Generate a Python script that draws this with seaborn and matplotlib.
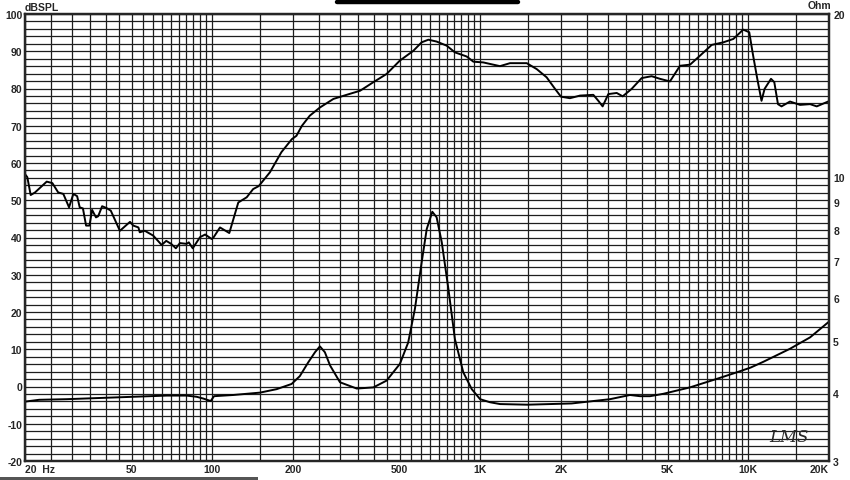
import numpy as np
import pandas as pd
import matplotlib
matplotlib.use('Agg')
import matplotlib.pyplot as plt
import seaborn as sns
from matplotlib.ticker import FixedLocator, MultipleLocator, LogLocator, NullLocator, NullFormatter
from matplotlib.lines import Line2D
from matplotlib.patches import Rectangle

# SPL response (Hz, dBSPL)
spl_freq = [20, 20.4, 21.0, 21.8, 24.1, 25.3, 26.6, 27.8, 29.2, 30.3, 31.3, 32.0, 32.9, 33.8,
            34.8, 35.6, 36.8, 37.5, 38.8, 40.3, 41.8, 45.2, 49.3, 50.7, 53.0, 53.6, 56.0, 60.2,
            64.7, 67.3, 70.2, 73.1, 75.7, 80.2, 81.7, 84.5, 90, 94, 99.5, 101, 106.8, 115.7,
            125, 134.4, 142, 149, 164, 181, 198, 206, 216, 231, 252, 283, 317, 356, 399, 447,
            501, 562, 604, 640, 687, 749, 804, 889, 942, 1026, 1086, 1184, 1290, 1490, 1624,
            1768, 1900, 2000, 2160, 2356, 2640, 2756, 2860, 3004, 3228, 3398, 3670, 4000, 4358,
            4680, 5100, 5560, 6060, 6600, 7300, 8070, 8790, 9570, 10080, 10400, 10800, 11200,
            11500, 12150, 12500, 12900, 13300, 14300, 15600, 17000, 18000, 20000]
spl_db = [57.0, 56.2, 51.4, 52.1, 55.0, 54.6, 52.1, 51.7, 48.1, 51.7, 51.1, 48.1, 47.8, 43.2,
          43.2, 47.4, 45.4, 45.7, 48.4, 47.9, 47.2, 41.8, 44.2, 43.2, 42.7, 41.4, 41.8, 40.5,
          38.0, 39.1, 38.3, 37.1, 38.5, 38.3, 38.7, 37.1, 40.1, 40.8, 39.6, 40.0, 42.7, 41.2,
          49.4, 50.8, 53.0, 53.8, 57.5, 62.9, 66.4, 67.3, 70.0, 72.7, 74.9, 77.2, 78.3, 79.4,
          81.7, 83.9, 87.5, 90.1, 92.4, 93.1, 92.6, 91.5, 89.7, 88.6, 87.2, 87.0, 86.6, 86.0,
          86.8, 86.8, 85.2, 83.0, 79.9, 77.8, 77.4, 78.1, 78.3, 76.7, 75.2, 78.5, 78.8, 77.9,
          79.9, 82.8, 83.3, 82.6, 81.9, 86.1, 86.4, 88.8, 91.7, 92.4, 93.3, 95.8, 95.1, 89.2,
          82.6, 76.7, 79.9, 82.6, 81.7, 75.8, 75.2, 76.5, 75.6, 75.8, 75.2, 76.6]

# impedance (Hz, Ohm)
imp_freq = [20, 22.6, 28.6, 38.1, 50.7, 67.6, 80.1, 87.4, 92.6, 98.6, 101.5, 119.7, 150.6,
            173.9, 197.6, 212, 228, 241.6, 252, 263, 275, 299.5, 345.8, 399, 447, 501, 538,
            570, 604, 631, 662, 687, 718, 760, 804, 864, 929, 998, 1086, 1184, 1500, 1820,
            2192, 3048, 3618, 3945, 4300, 4818, 6055, 7617, 9047, 10200, 11370, 14300, 17000,
            20000]
imp_ohm = [3.86, 3.89, 3.90, 3.92, 3.94, 3.96, 3.96, 3.94, 3.91, 3.87, 3.95, 3.97, 4.01,
           4.07, 4.16, 4.30, 4.56, 4.76, 4.88, 4.76, 4.50, 4.19, 4.08, 4.10, 4.22, 4.53, 4.96,
           5.72, 6.97, 8.03, 8.64, 8.44, 7.59, 6.23, 5.03, 4.37, 4.07, 3.90, 3.85, 3.82, 3.81,
           3.82, 3.83, 3.90, 3.97, 3.95, 3.95, 3.99, 4.10, 4.25, 4.37, 4.46, 4.57, 4.83, 5.07,
           5.42]

x_ticks = [20, 50, 100, 200, 500, 1000, 2000, 5000, 10000, 20000]
x_labels = ['20  Hz', '50', '100', '200', '500', '1K', '2K', '5K', '10K', '20K']
db_ticks = [-20, -10, 0, 10, 20, 30, 40, 50, 60, 70, 80, 90, 100]
ohm_ticks = [3, 4, 5, 6, 7, 8, 9, 10, 20]

spl = pd.DataFrame({'freq': spl_freq, 'db': spl_db})
imp = pd.DataFrame({'freq': imp_freq, 'ohm': imp_ohm})

sns.set_style('white')
plt.rcParams['font.family'] = ['Liberation Sans', 'DejaVu Sans']
plt.rcParams['axes.unicode_minus'] = False

fig = plt.figure(figsize=(8.5, 4.81), dpi=100)
ax = fig.add_axes([25/850, 19/481, 804/850, 447/481])
ax.set_xscale('log')

sns.lineplot(data=spl, x='freq', y='db', ax=ax, color='black', lw=1.4, sort=False)

ax.set_xlim(20, 20000)
ax.set_ylim(-20, 100)
ax.xaxis.set_major_locator(FixedLocator(x_ticks))
ax.xaxis.set_minor_locator(LogLocator(base=10, subs=np.arange(1, 10, 0.5), numticks=50))
ax.xaxis.set_minor_formatter(NullFormatter())
ax.set_xticklabels(x_labels)
ax.yaxis.set_major_locator(FixedLocator(db_ticks))
ax.yaxis.set_minor_locator(MultipleLocator(2))
ax.set_yticklabels([str(t) for t in db_ticks])
ax.grid(which='both', color='#1e1e1e', lw=0.9)
ax.set_xlabel('')
ax.set_ylabel('')
ax.tick_params(which='both', length=0, labelsize=7.5, pad=2)
for lab in ax.get_xticklabels() + ax.get_yticklabels():
    lab.set_fontweight('bold')
xl = ax.get_xticklabels()
xl[0].set_ha('left')
xl[-1].set_ha('right')
for s in ax.spines.values():
    s.set_color('black')
    s.set_linewidth(1.6)

ax2 = ax.twinx()
ax2.set_yscale('log')
sns.lineplot(data=imp, x='freq', y='ohm', ax=ax2, color='black', lw=1.4, sort=False)
ax2.set_ylim(3, 20)
ax2.yaxis.set_major_locator(FixedLocator(ohm_ticks))
ax2.yaxis.set_minor_locator(NullLocator())
ax2.set_yticklabels([str(t) for t in ohm_ticks])
ax2.set_ylabel('')
ax2.grid(False)
ax2.tick_params(which='both', length=0, labelsize=7.5, pad=3)
for lab in ax2.get_yticklabels():
    lab.set_fontweight('bold')
for s in ax2.spines.values():
    s.set_linewidth(1.6)

fig.text(25/850, 1 - 8/481, 'dBSPL', ha='left', va='center', fontsize=7.5, fontweight='bold')
fig.text(808/850, 1 - 6/481, 'Ohm', ha='left', va='center', fontsize=7.5, fontweight='bold')
ax.text(0.975, 0.035, 'LMS', transform=ax.transAxes, ha='right', va='bottom',
        fontsize=12, style='italic', family='DejaVu Serif', fontweight='light')

# black bar at the top and scan strip at the bottom
fig.add_artist(Line2D([337/850, 518/850], [1 - 2.5/481, 1 - 2.5/481], lw=3.2,
                      color='black', solid_capstyle='round'))
fig.add_artist(Rectangle((0, 0), 258/850, 3/481, color='#555555', lw=0))

fig.savefig('out.png', dpi=100)
